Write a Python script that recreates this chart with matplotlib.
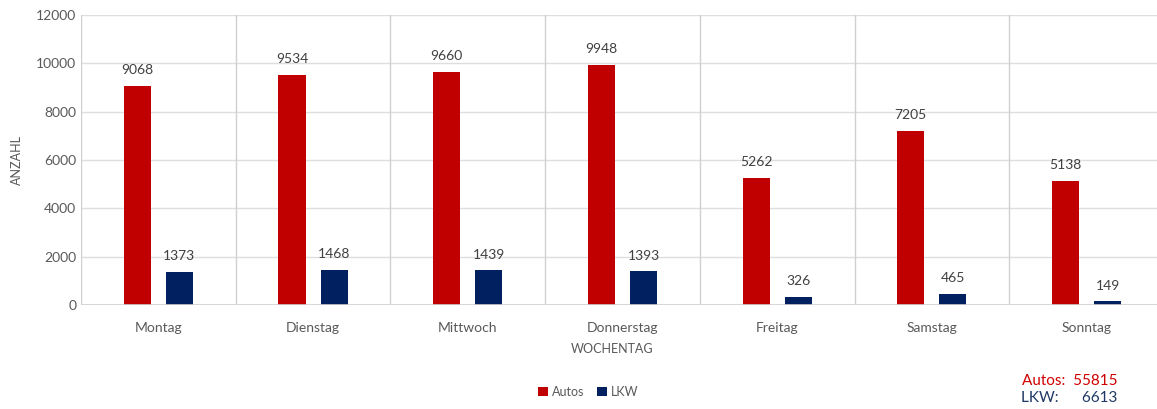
import numpy as np
import matplotlib.pyplot as plt

# === DATA ===
days = ["Montag", "Dienstag", "Mittwoch", "Donnerstag", "Freitag", "Samstag", "Sonntag"]
autos = [9068, 9534, 9660, 9948, 5262, 7205, 5138]
lkw = [1373, 1468, 1439, 1393, 326, 465, 149]

RED = "#C00000"
BLUE = "#002060"
TEXT = "#595959"

plt.rcParams['font.family'] = ['Lato', 'DejaVu Sans']

fig = plt.figure(figsize=(11.57, 4.09), dpi=100)
ax = fig.add_axes([81 / 1157, 1 - 305 / 409, (1157 - 81) / 1157, 290 / 409])

x = np.arange(len(days))
w = 0.175
off = 0.136
b1 = ax.bar(x - off, autos, w, color=RED, label="Autos", zorder=3)
b2 = ax.bar(x + off, lkw, w, color=BLUE, label="LKW", zorder=3)

for bars in (b1, b2):
    for r in bars:
        ax.annotate(str(int(r.get_height())), (r.get_x() + r.get_width() / 2, r.get_height()),
                    xytext=(0, 7), textcoords="offset points", ha="center", va="bottom",
                    fontsize=10, color="#404040")

ax.set_xlim(-0.5, -0.5 + 1076 / 154.7)
ax.set_ylim(0, 12000)
ax.set_yticks(range(0, 12001, 2000))
ax.set_xticks(x)
ax.set_xticklabels(days)
ax.tick_params(length=0, labelsize=10, labelcolor=TEXT)
ax.tick_params(axis='x', pad=12)

# grid: horizontal + category separators
for yv in range(2000, 12001, 2000):
    ax.axhline(yv, color="#DEDEDE", lw=1, zorder=1)
for xv in np.arange(-0.5, 7, 1):
    ax.axvline(xv, color="#D0D0D0", lw=1, zorder=1)
ax.axhline(0, color="#D0D0D0", lw=1.2, zorder=4)

for s in ax.spines.values():
    s.set_visible(False)

ax.set_ylabel("ANZAHL", fontsize=9, color=TEXT)
ax.yaxis.set_label_coords(-0.054, 0.5)
fig.text(612 / 1157, 1 - 349 / 409, "WOCHENTAG", ha="center", va="center", fontsize=9, color=TEXT)

fig.legend(handles=[b1, b2], loc="center", bbox_to_anchor=(588 / 1157, 1 - 392 / 409), ncol=2,
           frameon=False, fontsize=9, handlelength=0.8, handleheight=0.8, handletextpad=0.3,
           columnspacing=1.0, labelcolor=TEXT)

fig.text(1117 / 1157, 1 - 381 / 409, "Autos:  %d" % sum(autos), ha="right", va="center",
         fontsize=11, color="#D00000")
fig.text(1117 / 1157, 1 - 398 / 409, "LKW:      %d" % sum(lkw), ha="right", va="center",
         fontsize=11, color="#1F3864")

plt.savefig("out.png")
